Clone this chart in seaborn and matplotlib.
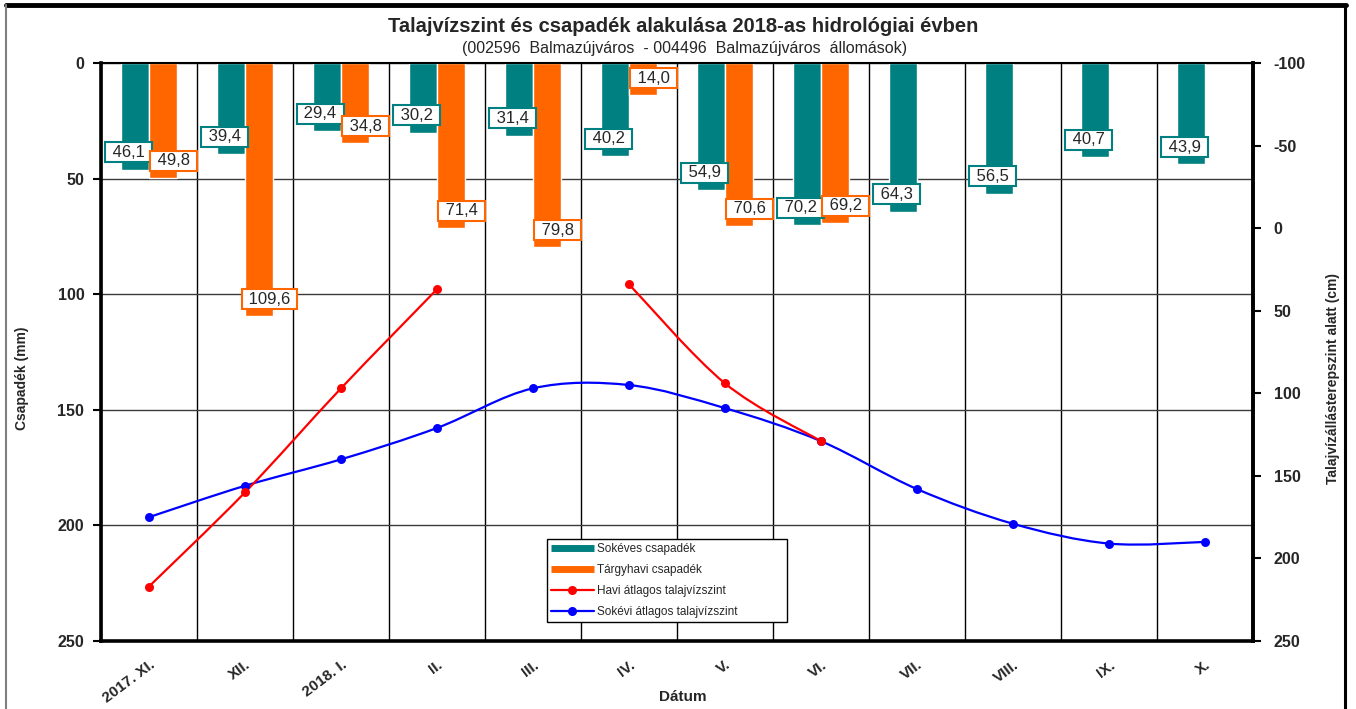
import numpy as np
import pandas as pd
import matplotlib
matplotlib.use('Agg')
import matplotlib.pyplot as plt
from matplotlib.path import Path
from matplotlib.patches import PathPatch
from matplotlib.lines import Line2D
import seaborn as sns

# adatok
honapok = ['2017. XI.', 'XII.', '2018. I.', 'II.', 'III.', 'IV.', 'V.', 'VI.', 'VII.', 'VIII.', 'IX.', 'X.']
sokeves_csap = [46.1, 39.4, 29.4, 30.2, 31.4, 40.2, 54.9, 70.2, 64.3, 56.5, 40.7, 43.9]
targyhavi_csap = [49.8, 109.6, 34.8, 71.4, 79.8, 14.0, 70.6, 69.2, np.nan, np.nan, np.nan, np.nan]
havi_talajviz = [217, 160, 97, 37, np.nan, 34, 94, 129, np.nan, np.nan, np.nan, np.nan]
sokevi_talajviz = [175, 156, 140, 121, 97, 95, 109, 129, 158, 179, 191, 190]

csap_ticks = [0, 50, 100, 150, 200, 250]
talajviz_ticks = [-100, -50, 0, 50, 100, 150, 200, 250]
sorozatok = ['Sokéves csapadék', 'Tárgyhavi csapadék',
             'Havi átlagos talajvízszint', 'Sokévi átlagos talajvízszint']

TEAL = '#008080'
ORANGE = '#FF6600'
RED = '#FF0000'
BLUE = '#0000FF'

sns.set_theme(style='white')
plt.rcParams['font.family'] = ['Liberation Sans', 'DejaVu Sans']


def fmt(v):
    return ' ' + f'{v:.1f}'.replace('.', ',') + ' '


def smooth_path(xs, ys):
    # Excel-szeru simitott vonal (Catmull-Rom -> Bezier)
    pts = np.column_stack([xs, ys]).astype(float)
    n = len(pts)
    verts = [pts[0]]
    codes = [Path.MOVETO]
    for i in range(n - 1):
        p0 = pts[max(i - 1, 0)]
        p1 = pts[i]
        p2 = pts[i + 1]
        p3 = pts[min(i + 2, n - 1)]
        verts += [p1 + (p2 - p0) / 6, p2 - (p3 - p1) / 6, p2]
        codes += [Path.CURVE4] * 3
    return Path(verts, codes)


def draw_line(ax, values, color):
    idx = np.arange(len(values))
    vals = np.array(values, dtype=float)
    ok = ~np.isnan(vals)
    # folytonos szakaszok
    start = None
    for i in range(len(vals) + 1):
        if i < len(vals) and ok[i]:
            if start is None:
                start = i
        elif start is not None:
            if i - start > 1:
                ax.add_patch(PathPatch(smooth_path(idx[start:i], vals[start:i]),
                                       fc='none', ec=color, lw=1.6, zorder=3))
            start = None
    sns.scatterplot(x=idx[ok], y=vals[ok], color=color, s=42, linewidth=0,
                    ax=ax, zorder=4, legend=False)


df = pd.DataFrame({'honap': honapok * 2,
                   'ertek': sokeves_csap + targyhavi_csap,
                   'sorozat': [sorozatok[0]] * 12 + [sorozatok[1]] * 12})

fig = plt.figure(figsize=(13.56, 7.09), dpi=100)
ax = fig.add_axes([101 / 1356, 1 - 641 / 709, 1152 / 1356, 578 / 709])

bar_w = 0.58
sns.barplot(data=df.dropna(), x='honap', y='ertek', hue='sorozat', order=honapok,
            hue_order=sorozatok[:2], palette=[TEAL, ORANGE], width=bar_w,
            saturation=1, errorbar=None, legend=False, ax=ax, zorder=2)

ax.set_xlim(-0.5, len(honapok) - 0.5)
ax.set_ylim(250, 0)
ax.set_yticks(csap_ticks)
ax.set_yticklabels([str(t) for t in csap_ticks], fontsize=11.5, fontweight='bold')
ax.set_xticks(np.arange(len(honapok)))
ax.set_xticklabels(honapok, rotation=37, ha='right', rotation_mode='anchor',
                   fontsize=11, fontweight='bold')
ax.set_xticks(np.arange(-0.5, len(honapok), 1), minor=True)
ax.tick_params(axis='x', which='major', length=0, pad=12)
ax.tick_params(axis='x', which='minor', direction='inout', length=9, width=1.5, color='black')
ax.tick_params(axis='y', direction='out', length=6, width=1.5, color='black', pad=6, left=True)
ax.grid(False)
ax.yaxis.grid(True, color='#3a3a3a', lw=1)
ax.xaxis.grid(True, which='minor', color='black', lw=1)
ax.set_axisbelow(True)
ax.set_xlabel('')
ax.set_ylabel('')
for side in ['left', 'bottom', 'right']:
    ax.spines[side].set_linewidth(2.6)
    ax.spines[side].set_color('black')
ax.spines['top'].set_linewidth(1.5)
ax.spines['top'].set_color('black')

# adatcimkek
for i, v in enumerate(sokeves_csap):
    if not np.isnan(v):
        ax.text(i - bar_w / 4 - 0.07, v - 7.5, fmt(v), ha='center', va='center',
                fontsize=12, zorder=5,
                bbox=dict(boxstyle='square,pad=0.15', fc='white', ec=TEAL, lw=1.5))
for i, v in enumerate(targyhavi_csap):
    if not np.isnan(v):
        ax.text(i + bar_w / 4 + 0.11, v - 7.5, fmt(v), ha='center', va='center',
                fontsize=12, zorder=5,
                bbox=dict(boxstyle='square,pad=0.15', fc='white', ec=ORANGE, lw=1.5))

# jobb tengely: talajviz
ax2 = ax.twinx()
draw_line(ax2, sokevi_talajviz, BLUE)
draw_line(ax2, havi_talajviz, RED)
ax2.set_xlim(-0.5, len(honapok) - 0.5)
ax2.set_ylim(250, -100)
ax2.set_yticks(talajviz_ticks)
ax2.set_yticklabels([str(t) for t in talajviz_ticks], fontsize=11.5, fontweight='bold')
ax2.tick_params(axis='y', direction='out', length=6, width=1.5, color='black', pad=9, right=True)
ax2.grid(False)
ax2.set_ylabel('')
for side in ['left', 'bottom', 'top']:
    ax2.spines[side].set_visible(False)
ax2.spines['right'].set_linewidth(2.6)
ax2.spines['right'].set_color('black')

handles = [Line2D([], [], color=TEAL, lw=5, solid_capstyle='butt'),
           Line2D([], [], color=ORANGE, lw=5, solid_capstyle='butt'),
           Line2D([], [], color=RED, lw=1.6, marker='o', ms=5.5),
           Line2D([], [], color=BLUE, lw=1.6, marker='o', ms=5.5)]
leg = ax2.legend(handles, sorozatok, loc='lower left',
                 bbox_to_anchor=((547 - 101) / 1152, (641 - 622) / 578, 240 / 1152, 82 / 578),
                 mode='expand', fontsize=8.5, frameon=True, fancybox=False, edgecolor='black',
                 framealpha=1, borderpad=0.35, labelspacing=0.75, handlelength=3.6,
                 handletextpad=0.3, borderaxespad=0)
leg.get_frame().set_linewidth(1)
leg.set_zorder(10)

# feliratok
fig.text(683 / 1356, 1 - 27 / 709, 'Talajvízszint és csapadék alakulása 2018-as hidrológiai évben',
         ha='center', va='center', fontsize=14.5, fontweight='bold')
fig.text(685 / 1356, 1 - 48 / 709, '(002596  Balmazújváros  - 004496  Balmazújváros  állomások)',
         ha='center', va='center', fontsize=11.5)
fig.text(683 / 1356, 1 - 697 / 709, 'Dátum', ha='center', va='center', fontsize=11, fontweight='bold')
fig.text(22 / 1356, 1 - 378 / 709, 'Csapadék (mm)', ha='center', va='center', rotation=90,
         fontsize=10, fontweight='bold')
fig.text(1333 / 1356, 1 - 379 / 709, 'Talajvízállásterepszint alatt (cm)', ha='center', va='center',
         rotation=90, fontsize=10, fontweight='bold')

# keret
fig.add_artist(Line2D([6 / 1356, 1346 / 1356], [1 - 5 / 709, 1 - 5 / 709], color='black', lw=3.5))
fig.add_artist(Line2D([6 / 1356, 6 / 1356], [0, 1 - 5 / 709], color='#808080', lw=1.5))
fig.add_artist(Line2D([1345 / 1356, 1345 / 1356], [0, 1 - 5 / 709], color='black', lw=2.2))

fig.savefig('out.png', dpi=100)
